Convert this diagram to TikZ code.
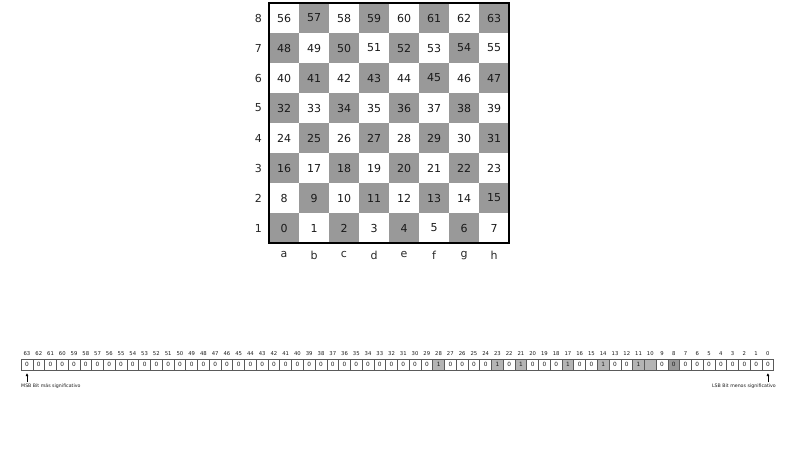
\documentclass[tikz,border=0pt]{standalone}
\usepackage{fontspec}
\setmainfont{DejaVu Sans}
\usetikzlibrary{arrows.meta,positioning}
\definecolor{bbdark}{HTML}{999999}
\definecolor{bblight}{HTML}{B4B4B4}
\definecolor{bbline}{HTML}{5A5A5A}
\definecolor{bbtext}{HTML}{1A1A1A}
\tikzset{
  sq/.style={minimum size=30pt,inner sep=0pt,outer sep=0pt,font=\fontsize{11}{11}\selectfont,text=bbtext},
  coordlbl/.style={font=\fontsize{11}{11}\selectfont,text=black!85,inner sep=0pt},
  bit/.style={draw=bbline,line width=0.7pt,minimum width=11.76pt,minimum height=11pt,inner sep=0pt,outer sep=0pt,font=\fontsize{5.8}{5.8}\selectfont,text=bbtext},
  bitnum/.style={font=\fontsize{5.3}{5.3}\selectfont,inner sep=0pt,text=bbtext},
  note/.style={font=\fontsize{4.7}{4.7}\selectfont,inner sep=0pt,text=bbtext},
  ar/.style={-{Latex[length=3pt,width=3pt]},line width=0.7pt},
}
\begin{document}
\begin{tikzpicture}[x=1pt,y=-1pt]
  \useasboundingbox (0,0) rectangle (802,448);
  % board, square 0 = a1
  \foreach \r in {0,...,7}{
    \foreach \c in {0,...,7}{
      \pgfmathtruncatemacro\n{8*\r+\c}
      \pgfmathtruncatemacro\parity{mod(\r+\c,2)}
      \pgfmathsetmacro\sx{284+30*\c}
      \pgfmathsetmacro\sy{18+30*(7-\r)}
      \ifnum\parity=0 \def\sqfill{bbdark}\else\def\sqfill{white}\fi
      \node[sq,fill=\sqfill] (sq\n) at (\sx,\sy) {\n};
    }}
  \draw[line width=2.2pt] (sq0.south west) rectangle (sq63.north east);
  \foreach \r in {1,...,8}{
    \pgfmathtruncatemacro\n{8*(\r-1)}
    \node[coordlbl,left=7pt of sq\n] (rank\r) {\r};}
  \foreach \f [count=\c from 0] in {a,b,c,d,e,f,g,h}
    \node[coordlbl,below=8pt of sq\c.south,anchor=north] (file\f) {\f};
  % bitboard row, 63 on the left
  \foreach \i in {0,...,63}{
    \pgfmathsetmacro\x{27+11.76*(63-\i)}
    \pgfmathtruncatemacro\on{(\i==28)||(\i==23)||(\i==21)||(\i==17)||(\i==14)||(\i==11)}
    \def\bfill{white}\def\btext{0}
    \ifnum\on=1 \def\bfill{bblight}\def\btext{1}\fi
    \ifnum\i=10 \def\bfill{bblight}\def\btext{}\fi
    \ifnum\i=8 \def\bfill{bbdark}\fi
    \node[bit,fill=\bfill] (b\i) at (\x,364.5) {\btext};
    \node[bitnum,above=3pt of b\i] (n\i) {\i};
  }
  \node[note,anchor=west] (msb) at (21,386) {MSB Bit más significativo};
  \node[note,anchor=east] (lsb) at (776,386) {LSB Bit menos significativo};
  \draw[ar,shorten <=1.5pt,shorten >=3pt] (msb.north -| b63) -- (b63.south);
  \draw[ar,shorten <=1.5pt,shorten >=3pt] (lsb.north -| b0) -- (b0.south);
\end{tikzpicture}
\end{document}
